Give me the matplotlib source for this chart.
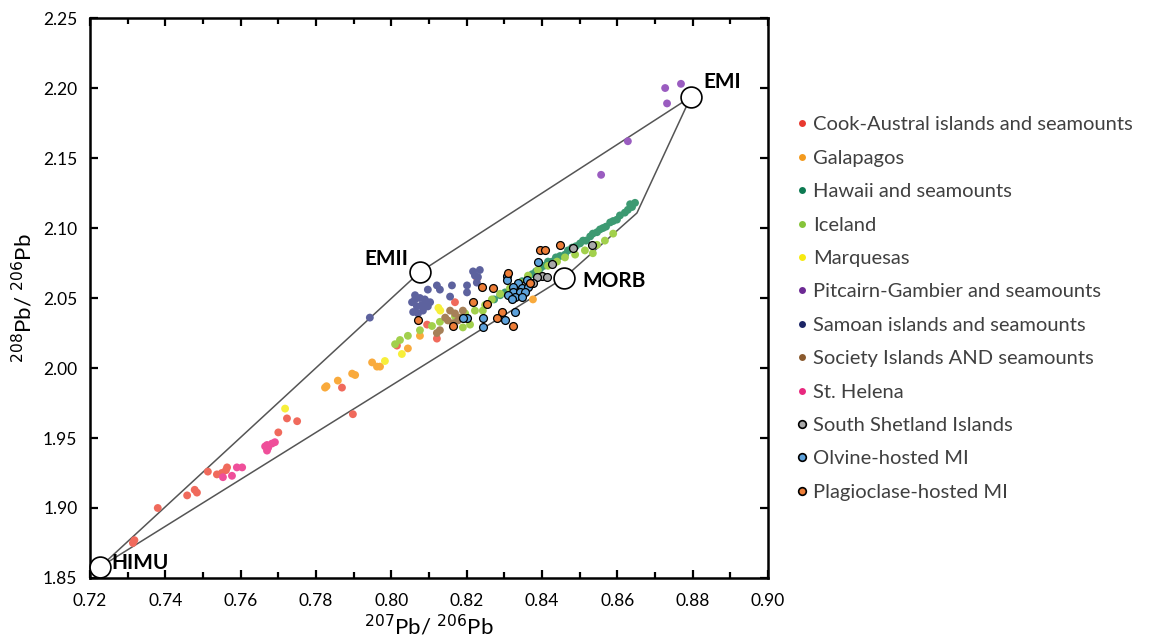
import matplotlib
matplotlib.use("Agg")
import matplotlib.pyplot as plt
from matplotlib.ticker import MultipleLocator, FormatStrFormatter

plt.rcParams['font.family'] = ['Lato', 'DejaVu Sans']

# mantle end-members (207Pb/206Pb, 208Pb/206Pb)
em_names = ["HIMU", "EMII", "EMI", "MORB"]
em_x = [0.7227, 0.8076, 0.8795, 0.8458]
em_y = [1.8579, 2.0686, 2.1936, 2.0643]
# outline of the mixing field
field_x = [0.7227, 0.8076, 0.8795, 0.8652, 0.8458, 0.7227]
field_y = [1.8579, 2.0686, 2.1936, 2.1107, 2.0643, 1.8579]

cook_x = [0.7314, 0.7318, 0.7380, 0.7458, 0.7484, 0.7478, 0.7513, 0.7537, 0.7550, 0.7564, 0.7561,
          0.7700, 0.7723, 0.7750, 0.7869, 0.7898, 0.8015, 0.8169, 0.8095, 0.8121, 0.8228]
cook_y = [1.875, 1.877, 1.900, 1.909, 1.911, 1.913, 1.926, 1.924, 1.925, 1.929, 1.927,
          1.954, 1.964, 1.962, 1.986, 1.967, 2.016, 2.047, 2.031, 2.021, 2.064]

gala_x = [0.7824, 0.7828, 0.7858, 0.7896, 0.7904, 0.7949, 0.7962, 0.7970, 0.8044, 0.8076, 0.8376]
gala_y = [1.986, 1.987, 1.991, 1.996, 1.995, 2.004, 2.001, 2.001, 2.014, 2.023, 2.049]

hawaii_x = [0.8647, 0.8639, 0.8634, 0.8628, 0.8620, 0.8607, 0.8599, 0.8589, 0.8581, 0.8570,
            0.8562, 0.8554, 0.8546, 0.8535, 0.8528, 0.8517, 0.8509, 0.8501, 0.8490, 0.8480,
            0.8469, 0.8461, 0.8448, 0.8437, 0.8427, 0.8416, 0.8405, 0.8395, 0.8384, 0.8374,
            0.8363, 0.8347, 0.8336, 0.8320, 0.8302, 0.8289, 0.8273]
hawaii_y = [2.118, 2.115, 2.117, 2.113, 2.111, 2.109, 2.106, 2.105, 2.104, 2.101,
            2.100, 2.099, 2.097, 2.096, 2.094, 2.091, 2.091, 2.089, 2.087, 2.086,
            2.084, 2.081, 2.080, 2.079, 2.076, 2.076, 2.073, 2.071, 2.069, 2.067,
            2.065, 2.062, 2.060, 2.057, 2.054, 2.052, 2.049]

iceland_x = [0.8589, 0.8567, 0.8535, 0.8546, 0.8514, 0.8488, 0.8461, 0.8440, 0.8416, 0.8389,
             0.8363, 0.8342, 0.8315, 0.8289, 0.8267, 0.8249, 0.8222, 0.8196, 0.8169, 0.8129,
             0.8108, 0.8076, 0.8044, 0.8023, 0.8010, 0.8243, 0.8209, 0.8190]
iceland_y = [2.096, 2.091, 2.082, 2.088, 2.084, 2.081, 2.079, 2.076, 2.073, 2.070,
             2.066, 2.061, 2.057, 2.053, 2.049, 2.045, 2.041, 2.039, 2.037, 2.033,
             2.030, 2.027, 2.023, 2.020, 2.017, 2.041, 2.031, 2.029]

marq_x = [0.7718, 0.7983, 0.8028, 0.8130, 0.8125]
marq_y = [1.971, 2.005, 2.010, 2.041, 2.043]

pitcairn_x = [0.8727, 0.8769, 0.8732, 0.8628, 0.8557]
pitcairn_y = [2.200, 2.203, 2.189, 2.162, 2.138]

samoa_x = [0.7943, 0.8055, 0.8063, 0.8076, 0.8081, 0.8084, 0.8068, 0.8058, 0.8095, 0.8089,
           0.8103, 0.8071, 0.8097, 0.8063, 0.8097, 0.8121, 0.8129, 0.8161, 0.8201, 0.8201,
           0.8156, 0.8217, 0.8235, 0.8222, 0.8230, 0.8227]
samoa_y = [2.036, 2.047, 2.049, 2.050, 2.045, 2.041, 2.044, 2.040, 2.047, 2.049,
           2.047, 2.039, 2.044, 2.052, 2.056, 2.059, 2.056, 2.059, 2.059, 2.054,
           2.051, 2.069, 2.070, 2.066, 2.065, 2.061]

society_x = [0.8156, 0.8143, 0.8169, 0.8177, 0.8164, 0.8150, 0.8129, 0.8121, 0.8182, 0.8190]
society_y = [2.041, 2.036, 2.039, 2.034, 2.032, 2.034, 2.027, 2.025, 2.036, 2.041]

helena_x = [0.7553, 0.7577, 0.7590, 0.7604, 0.7670, 0.7673, 0.7683, 0.7691, 0.7670, 0.7665]
helena_y = [1.922, 1.923, 1.929, 1.929, 1.945, 1.943, 1.946, 1.947, 1.941, 1.944]

shetland_x = [0.8427, 0.8400, 0.8387, 0.8413, 0.8376, 0.8355, 0.8334, 0.8328, 0.8482, 0.8533]
shetland_y = [2.074, 2.066, 2.065, 2.065, 2.061, 2.059, 2.058, 2.056, 2.086, 2.088]

olivine_x = [0.8389, 0.8307, 0.8336, 0.8323, 0.8347, 0.8363, 0.8323, 0.8310, 0.8342, 0.8355,
             0.8328, 0.8347, 0.8320, 0.8201, 0.8190, 0.8243, 0.8243, 0.8302, 0.8328, 0.8307, 0.8360]
olivine_y = [2.076, 2.066, 2.061, 2.058, 2.057, 2.058, 2.054, 2.052, 2.054, 2.054,
             2.051, 2.051, 2.049, 2.036, 2.036, 2.036, 2.029, 2.034, 2.040, 2.063, 2.063]

plag_x = [0.8395, 0.8408, 0.8448, 0.8310, 0.8368, 0.8241, 0.8270, 0.8217, 0.8254, 0.8164,
          0.8071, 0.8294, 0.8280, 0.8323]
plag_y = [2.084, 2.084, 2.088, 2.068, 2.061, 2.058, 2.057, 2.047, 2.046, 2.030,
          2.034, 2.040, 2.036, 2.030]

fig = plt.figure(figsize=(11.49, 6.44), dpi=100)
ax = fig.add_axes([0.0783, 0.1025, 0.5901, 0.8695])

ax.plot(field_x, field_y, color='#555555', lw=1.1, zorder=1)

plain = [
    ("Cook-Austral islands and seamounts", cook_x, cook_y, '#f06a5c', '#e8392f'),
    ("Galapagos", gala_x, gala_y, '#f9aa3c', '#f39a1e'),
    ("Hawaii and seamounts", hawaii_x, hawaii_y, '#3d9a72', '#0d7a52'),
    ("Iceland", iceland_x, iceland_y, '#a2d04c', '#86c43a'),
    ("Marquesas", marq_x, marq_y, '#f7ef3a', '#f7ea10'),
    ("Pitcairn-Gambier and seamounts", pitcairn_x, pitcairn_y, '#9a5cc0', '#6d2a94'),
    ("Samoan islands and seamounts", samoa_x, samoa_y, '#5d629e', '#1c2566'),
    ("Society Islands AND seamounts", society_x, society_y, '#a68058', '#8a5a2e'),
    ("St. Helena", helena_x, helena_y, '#ef4f9a', '#e8287e'),
]
edged = [
    ("South Shetland Islands", shetland_x, shetland_y, '#a9a9a9'),
    ("Olvine-hosted MI", olivine_x, olivine_y, '#5da2dc'),
    ("Plagioclase-hosted MI", plag_x, plag_y, '#ee7e38'),
]

handles = []
for name, xs, ys, col, lcol in plain:
    ax.scatter(xs, ys, s=32, color=col, edgecolors='none', zorder=2)
    h, = ax.plot([], [], 'o', color=lcol, ms=5, mec='none', label=name)
    handles.append(h)
for name, xs, ys, col in edged:
    ax.scatter(xs, ys, s=32, color=col, edgecolors='black', linewidths=0.9, zorder=3)
    h, = ax.plot([], [], 'o', color=col, ms=5.5, mec='black', mew=1.2, label=name)
    handles.append(h)

# end-member circles
ax.plot(em_x, em_y, 'o', ms=15, mfc='white', mec='black', mew=1.2, zorder=4, clip_on=False)
offsets = {"HIMU": (8, 3, 'left'), "EMII": (-8, 9, 'right'), "EMI": (9, 11, 'left'),
           "MORB": (13, -2, 'left')}
for n, x, y in zip(em_names, em_x, em_y):
    dx, dy, ha = offsets[n]
    ax.annotate(n, (x, y), xytext=(dx, dy), textcoords='offset points', ha=ha, va='center',
                fontsize=15, fontweight='bold', zorder=5)

ax.set_xlim(0.72, 0.90)
ax.set_ylim(1.85, 2.25)
ax.xaxis.set_major_locator(MultipleLocator(0.02))
ax.xaxis.set_minor_locator(MultipleLocator(0.01))
ax.yaxis.set_major_locator(MultipleLocator(0.05))
ax.xaxis.set_major_formatter(FormatStrFormatter('%.2f'))
ax.yaxis.set_major_formatter(FormatStrFormatter('%.2f'))
ax.tick_params(which='both', direction='in', top=True, right=True, width=1.6, labelsize=12.5)
ax.tick_params(which='major', length=6)
ax.tick_params(which='minor', length=4)
ax.tick_params(axis='x', pad=11)
ax.tick_params(axis='y', pad=9)
for s in ax.spines.values():
    s.set_linewidth(1.8)

ax.set_xlabel(r'$^{207}$Pb/ $^{206}$Pb', fontsize=16, labelpad=3)
ax.set_ylabel(r'$^{208}$Pb/ $^{206}$Pb', fontsize=16, labelpad=5)

fig.legend(handles=handles, loc='upper left', bbox_to_anchor=(0.684, 0.832), frameon=False,
           fontsize=14.5, labelcolor='#404040', handletextpad=0.15, labelspacing=0.81,
           handlelength=0.8, borderaxespad=0)

fig.savefig("out.png", dpi=100)
